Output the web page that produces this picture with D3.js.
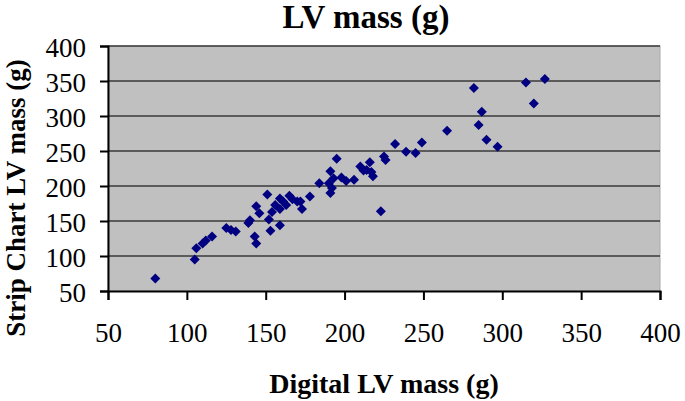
<!DOCTYPE html>
<html>
<head>
<meta charset="utf-8">
<script src="https://cdn.jsdelivr.net/npm/d3@7"></script>
<style>
  html, body { margin: 0; padding: 0; background: #fff; }
  svg { display: block; }
</style>
</head>
<body>
<svg id="chart" width="685" height="401"></svg>
<script>
const digitalLV = [80,105,106,110,112,116,125,128,131,139,140,143,144,144,146,151,152,153,154,156,159,159,159,161,163,165,167,170,172,173,178,184,190,191,192,191,193,195,198,201,206,210,212,214,216,217,218,223,225,226,232,239,245,249,265,282,285,287,290,297,315,320,327];
const stripLV   = [68,95,111,118,122,128,140,137,135,147,151,128,118,171,161,188,152,136,163,173,144,167,182,178,173,186,181,178,178,167,185,204,204,190,197,221,211,239,212,207,209,228,222,223,234,220,214,164,242,237,260,249,247,262,279,340,287,306,266,256,348,318,353];
const xTicks = [50,100,150,200,250,300,350,400];
const yTicks = [50,100,150,200,250,300,350,400];
const titleText = "LV mass (g)";
const xTitle = "Digital LV mass (g)";
const yTitle = "Strip Chart LV mass (g)";

(function(){
const svg = d3.select("#chart");
const pL = 108, pR = 660, pT = 46, pB = 291;
const x = d3.scaleLinear().domain([50,400]).range([pL,pR]);
const y = d3.scaleLinear().domain([50,400]).range([pB,pT]);
const serif = "'Liberation Serif','Times New Roman',serif";

svg.append("rect").attr("x",pL).attr("y",pT).attr("width",pR-pL).attr("height",pB-pT)
  .attr("fill","#c0c0c0").attr("stroke","#a8a8a8").attr("stroke-width",1);

svg.append("g").selectAll("line").data(yTicks.filter(d=>d>50)).join("line")
  .attr("x1",pL).attr("x2",pR).attr("y1",d=>y(d)).attr("y2",d=>y(d))
  .attr("stroke","#3a3a3a").attr("stroke-width",1.6);

const xAxis = svg.append("g").attr("transform",`translate(0,${pB})`)
  .call(d3.axisBottom(x).tickValues(xTicks).tickSize(9).tickPadding(23).tickFormat(d3.format("d")));
const yAxis = svg.append("g").attr("transform",`translate(${pL},0)`)
  .call(d3.axisLeft(y).tickValues(yTicks).tickSize(8).tickPadding(14).tickFormat(d3.format("d")));
[xAxis,yAxis].forEach(g=>{
  g.attr("font-family",serif);
  g.select(".domain").attr("stroke","#000").attr("stroke-width",2);
  g.selectAll(".tick line").attr("stroke","#000").attr("stroke-width",2);
  g.selectAll("text").attr("font-family",serif).attr("font-size",27).attr("fill","#000");
});
yAxis.selectAll("text").attr("dy","0.4em");

const diamond = "M0,-5L5,0L0,5L-5,0Z";
svg.append("g").selectAll("path").data(digitalLV.map((d,i)=>[d,stripLV[i]])).join("path")
  .attr("d",diamond).attr("transform",d=>`translate(${x(d[0])},${y(d[1])})`)
  .attr("fill","#000080");

svg.append("text").attr("x",366).attr("y",28).attr("text-anchor","middle")
  .attr("font-family",serif).attr("font-weight","bold").attr("font-size",33).text(titleText);
svg.append("text").attr("x",384).attr("y",393).attr("text-anchor","middle")
  .attr("font-family",serif).attr("font-weight","bold").attr("font-size",28).text(xTitle);
svg.append("text").attr("transform",`translate(25,198) rotate(-90)`).attr("text-anchor","middle")
  .attr("font-family",serif).attr("font-weight","bold").attr("font-size",27).text(yTitle);
})();
</script>
</body>
</html>
